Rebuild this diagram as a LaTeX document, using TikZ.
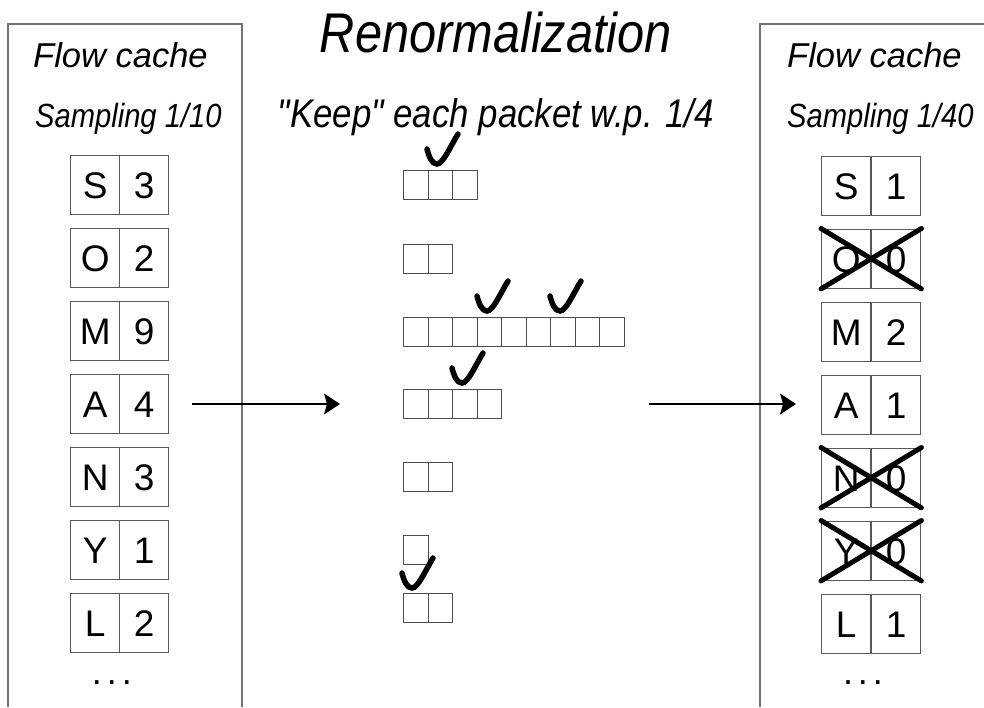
\documentclass[tikz,border=0pt]{standalone}
\usepackage{fontspec}
\setmainfont{Liberation Sans}
\newfontfamily\narrowsans[FakeStretch=0.87]{Liberation Sans}
\usetikzlibrary{arrows.meta}

\begin{document}
\begin{tikzpicture}[x=1pt,y=-1pt,
  panel/.style={draw=black!55, line width=1.6pt},
  cell/.style={draw=black!65, line width=1.4pt, minimum width=49pt,
    minimum height=59pt, inner sep=0pt, anchor=north west,
    text height=27pt, text depth=0pt,
    font=\fontsize{37}{37}\selectfont},
  pkt/.style={draw=black!70, line width=1.2pt, minimum width=24.5pt,
    minimum height=29pt, inner sep=0pt, anchor=north west},
  strike/.style={line width=5pt, line cap=round},
  flowarrow/.style={line width=1.5pt,
    -{Stealth[length=16pt,width=21pt,inset=3pt]}},
  heading/.style={inner sep=0pt, anchor=base west,
    font=\fontsize{34.5}{34.5}\selectfont\itshape},
  subheading/.style={inner sep=0pt, anchor=base west,
    font=\fontsize{33.5}{33.5}\selectfont\narrowsans\itshape},
  dots/.style={inner sep=0pt, anchor=base,
    font=\fontsize{36}{36}\selectfont},
  chkmark/.pic={\draw[line width=5.5pt, line cap=round]
    (-10,-15) .. controls (-8,-7) and (-5,0) .. (0,0)
    .. controls (6,0) and (13,-17) .. (21,-30);}
]
\useasboundingbox (0,0) rectangle (984,707);

% panels on both sides (open at the bottom / right)
\draw[panel] (8,707) -- (8,24) -- (242,24) -- (242,707);
\draw[panel] (760,707) -- (760,24) -- (984,24);

% titles
\node[inner sep=0pt, anchor=base, font=\fontsize{56}{56}\selectfont\narrowsans\itshape]
  (title) at (496,52) {Renormalization};
\node[inner sep=0pt, anchor=base, font=\fontsize{40}{40}\selectfont\narrowsans\itshape]
  (keep) at (496,127) {"Keep" each packet w.p. 1/4};

\node[heading] (lhead) at (33,67) {Flow cache};
\node[subheading] (lsub) at (35,127) {Sampling 1/10};
\node[heading] (rhead) at (787,67) {Flow cache};
\node[subheading] (rsub) at (787,127) {Sampling 1/40};

% flow cache before renormalization
\foreach \k/\v [count=\i from 0] in {S/3,O/2,M/9,A/4,N/3,Y/1,L/2} {
  \node[cell] (lk\i) at (70,155+73*\i) {\k};
  \node[cell] (lv\i) at (119,155+73*\i) {\v};
}
\node[dots] (ldots) at (112,684) {.\kern5pt.\kern5pt.};

% flow cache after renormalization
\foreach \k/\v [count=\i from 0] in {S/1,O/0,M/2,A/1,N/0,Y/0,L/1} {
  \node[cell] (rk\i) at (821,155.5+73*\i) {\k};
  \node[cell] (rv\i) at (871,155.5+73*\i) {\v};
}
\node[dots] (rdots) at (863,684) {.\kern5pt.\kern5pt.};

% evicted flows
\foreach \i in {1,4,5} {
  \draw[strike] (rk\i.north west) -- (rv\i.south east);
  \draw[strike] (rk\i.south west) -- (rv\i.north east);
}

% packets of each flow
\foreach \n/\top [count=\r from 0] in {3/170,2/244,9/317,4/389,2/462,1/535,2/593} {
  \foreach \j in {1,...,\n} {
    \node[pkt] (p\r-\j) at (403+24.5*\j-24.5,\top) {};
  }
}

% kept packets
\pic at (437,164) {chkmark};
\pic at (487,311) {chkmark};
\pic at (560,311) {chkmark};
\pic at (462,383) {chkmark};
\pic at (412,588) {chkmark};

% arrows
\coordinate (a1s) at (192,404);
\coordinate (a1e) at (340,404);
\coordinate (a2s) at (649,404);
\coordinate (a2e) at (796,404);
\draw[flowarrow] (a1s) -- (a1e);
\draw[flowarrow] (a2s) -- (a2e);
\end{tikzpicture}
\end{document}
